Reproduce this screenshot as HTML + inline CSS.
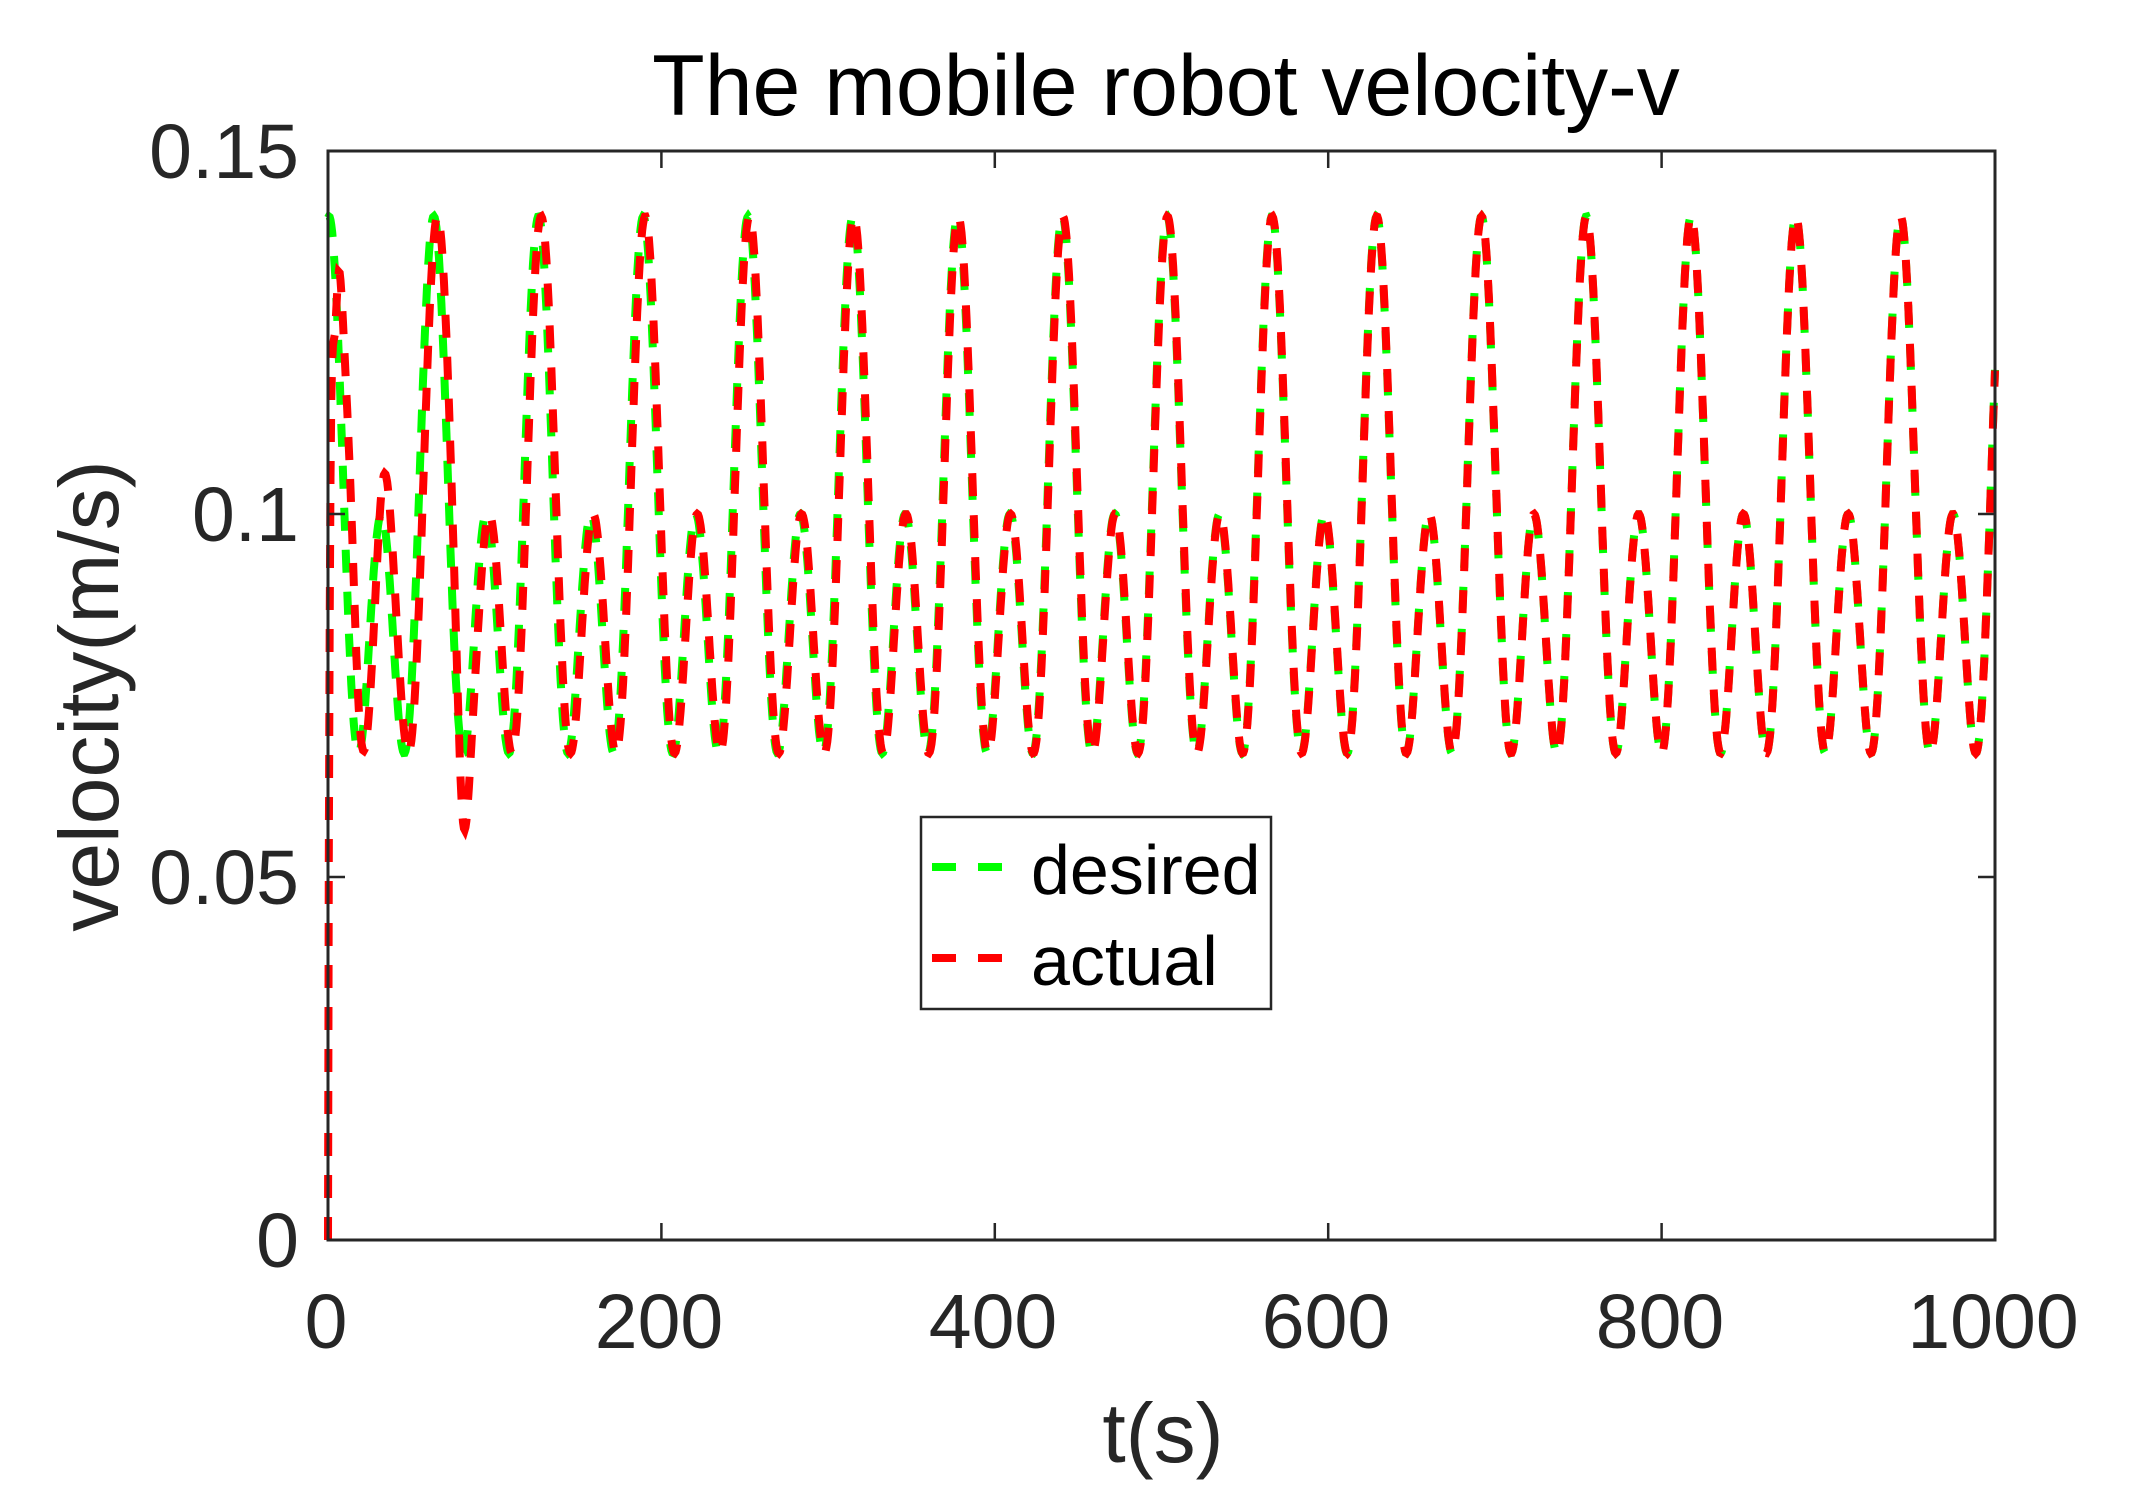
<!DOCTYPE html>
<html><head><meta charset="utf-8"><style>
html,body{margin:0;padding:0;background:#fff;}
svg{display:block;font-family:"Liberation Sans",sans-serif;}
</style></head><body>
<svg id="s" width="2129" height="1507" viewBox="0 0 2129 1507" xmlns="http://www.w3.org/2000/svg">
<rect width="2129" height="1507" fill="#fff"/>
<g id="lines" fill="none" stroke-width="8" stroke-dasharray="23,19"></g>
<rect x="328" y="151" width="1667" height="1089" fill="none" stroke="#262626" stroke-width="3"/>
<g stroke="#262626" stroke-width="2.5" id="ticks"></g>
<g fill="#262626" font-size="77" text-anchor="middle">
<text x="326" y="1348">0</text><text x="659" y="1348">200</text><text x="993" y="1348">400</text>
<text x="1326" y="1348">600</text><text x="1660" y="1348">800</text><text x="1993" y="1348">1000</text>
</g>
<g fill="#262626" font-size="77" text-anchor="end">
<text x="299" y="1267">0</text><text x="299" y="904">0.05</text><text x="299" y="541">0.1</text><text x="299" y="178">0.15</text>
</g>
<text x="1166" y="115" font-size="86" text-anchor="middle" fill="#000">The mobile robot velocity-v</text>
<text x="1163" y="1462" font-size="84" text-anchor="middle" fill="#262626">t(s)</text>
<text transform="translate(118,696) rotate(-90)" font-size="84" text-anchor="middle" fill="#262626">velocity(m/s)</text>
<rect x="921" y="817" width="350" height="192" fill="#fff" stroke="#262626" stroke-width="2.5"/>
<line x1="932" y1="867" x2="1003" y2="867" stroke="#00ff00" stroke-width="8" stroke-dasharray="24,22"/>
<line x1="932" y1="958" x2="1003" y2="958" stroke="#ff0000" stroke-width="8" stroke-dasharray="24,22"/>
<text x="1031" y="894" font-size="70" fill="#000">desired</text>
<text x="1031" y="985" font-size="70" fill="#000">actual</text>
</svg>
<script>
(function(){
var X0=328,X1=1995,Y0=1240,H=1089;
function px(t){return X0+(X1-X0)*t/1000;}
function py(v){return Y0-v/0.15*H;}
var w=2*Math.PI/62.85, ph=0.6;
function des(t){var th=w*(t-ph);return 0.0948+0.0205*Math.cos(th)+0.0257*Math.cos(2*th);}
function act(t){
  var lag=3.2*Math.exp(-t/180);
  var v=des(t-lag);
  v-=0.012*Math.exp(-Math.pow((t-81)/4,2));
  v+=0.006*Math.exp(-Math.pow((t-33)/5,2));
  v+=0.008*Math.exp(-Math.pow((t-14)/4,2));
  v-=0.014*Math.exp(-Math.pow((t-4)/2,2));
  v*= (1-Math.exp(-t/1.0));
  return v;
}
function path(f){var d="";for(var t=0;t<=1000;t+=0.5){d+=(t?"L":"M")+px(t).toFixed(1)+","+py(f(t)).toFixed(1);}return d;}
var g=document.getElementById("lines"),ns="http://www.w3.org/2000/svg";
var p1=document.createElementNS(ns,"path");p1.setAttribute("d",path(des));p1.setAttribute("stroke","#00ff00");g.appendChild(p1);
var p2=document.createElementNS(ns,"path");p2.setAttribute("d",path(act));p2.setAttribute("stroke","#ff0000");g.appendChild(p2);
var tk=document.getElementById("ticks"),s="";
for(var i=1;i<5;i++){var x=px(i*200);s+="M"+x+","+Y0+"v-17M"+x+",151v17";}
for(var j=1;j<3;j++){var y=py(j*0.05);s+="M"+X0+","+y+"h17M"+X1+","+y+"h-17";}
var tp=document.createElementNS(ns,"path");tp.setAttribute("d",s);tk.appendChild(tp);
})();
</script>
</body></html>
